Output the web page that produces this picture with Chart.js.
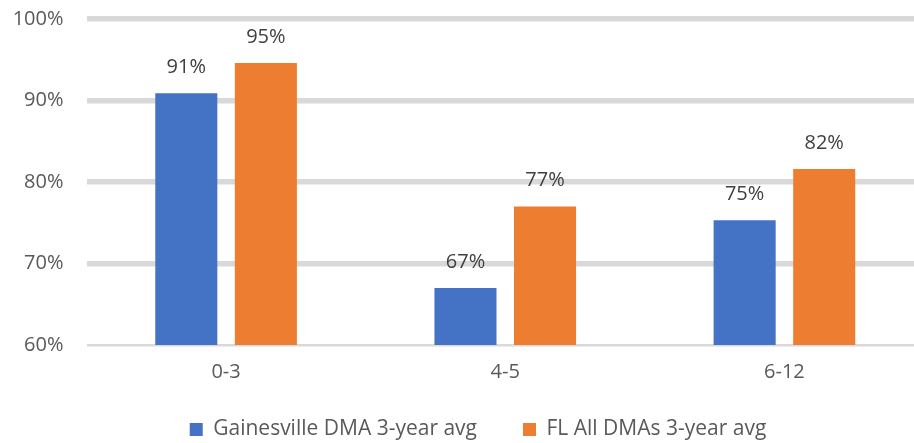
<!DOCTYPE html>
<html>
<head>
<meta charset="utf-8">
<script src="https://cdn.jsdelivr.net/npm/chart.js@4/dist/chart.umd.min.js"></script>
<style>
  html, body { margin: 0; padding: 0; background: #ffffff; overflow: hidden; }
  #wrap { width: 924px; height: 450px; position: relative; }
</style>
</head>
<body>
<div id="wrap"><canvas id="c"></canvas></div>
<script>
const categories = ['0-3', '4-5', '6-12'];
const seriesNames = ['Gainesville DMA 3-year avg', 'FL All DMAs 3-year avg'];
const gainesvilleValues = [90.9, 67.0, 75.3];
const flAllValues = [94.6, 77.0, 81.6];
const yTickValues = [60, 70, 80, 90, 100];

const FONT = '"Open Sans", "Noto Sans", sans-serif';

const dataLabelPlugin = {
  id: 'dataLabels',
  afterDatasetsDraw(chart) {
    const ctx = chart.ctx;
    ctx.save();
    ctx.font = '20px ' + FONT;
    ctx.fillStyle = '#404040';
    ctx.textAlign = 'center';
    ctx.textBaseline = 'middle';
    chart.data.datasets.forEach((ds, i) => {
      const meta = chart.getDatasetMeta(i);
      meta.data.forEach((bar, j) => {
        ctx.fillText(Math.round(ds.data[j]) + '%', bar.x, bar.y - 26);
      });
    });
    ctx.restore();
  }
};

const layoutTweaks = {
  id: 'layoutTweaks',
  afterLayout(chart) {
    if (chart.legend) { chart.legend.left = 32; }
    if (chart.scales.x) { chart.scales.x.bottom += 24; }
  }
};

new Chart(document.getElementById('c'), {
  type: 'bar',
  data: {
    labels: categories,
    datasets: [
      { label: seriesNames[0], data: gainesvilleValues, backgroundColor: '#4472C4', borderWidth: 0 },
      { label: seriesNames[1], data: flAllValues, backgroundColor: '#ED7D31', borderWidth: 0 }
    ]
  },
  options: {
    responsive: true,
    maintainAspectRatio: false,
    animation: false,
    devicePixelRatio: 1,
    layout: { padding: { top: 19, left: 0, right: 0, bottom: 0 } },
    datasets: { bar: { barPercentage: 0.78, categoryPercentage: 0.57 } },
    scales: {
      x: {
        grid: { display: false, drawTicks: false },
        border: { display: false },
        ticks: { color: '#595959', font: { family: FONT, size: 20 }, padding: 15 },
        afterFit(scale) { scale.height = 28; }
      },
      y: {
        min: 60, max: 100,
        afterBuildTicks(scale) { scale.ticks = yTickValues.map(v => ({ value: v })); },
        grid: {
          color: '#D9D9D9',
          lineWidth: (c) => (c.tick && c.tick.value === 60 ? 2.5 : 5.5),
          drawTicks: false
        },
        border: { display: false },
        ticks: {
          color: '#595959',
          font: { family: FONT, size: 20 },
          padding: 23,
          callback: (v) => v + '%'
        },
        afterFit(scale) {
          scale.width = 86.5;
          scale.paddingTop = 0;
          scale.paddingBottom = 0;
        }
      }
    },
    plugins: {
      legend: {
        position: 'bottom',
        labels: {
          boxWidth: 13, boxHeight: 13,
          padding: 46,
          color: '#595959',
          font: { family: FONT, size: 21 }
        }
      },
      tooltip: { enabled: false }
    }
  },
  plugins: [dataLabelPlugin, layoutTweaks]
});
</script>
</body>
</html>
